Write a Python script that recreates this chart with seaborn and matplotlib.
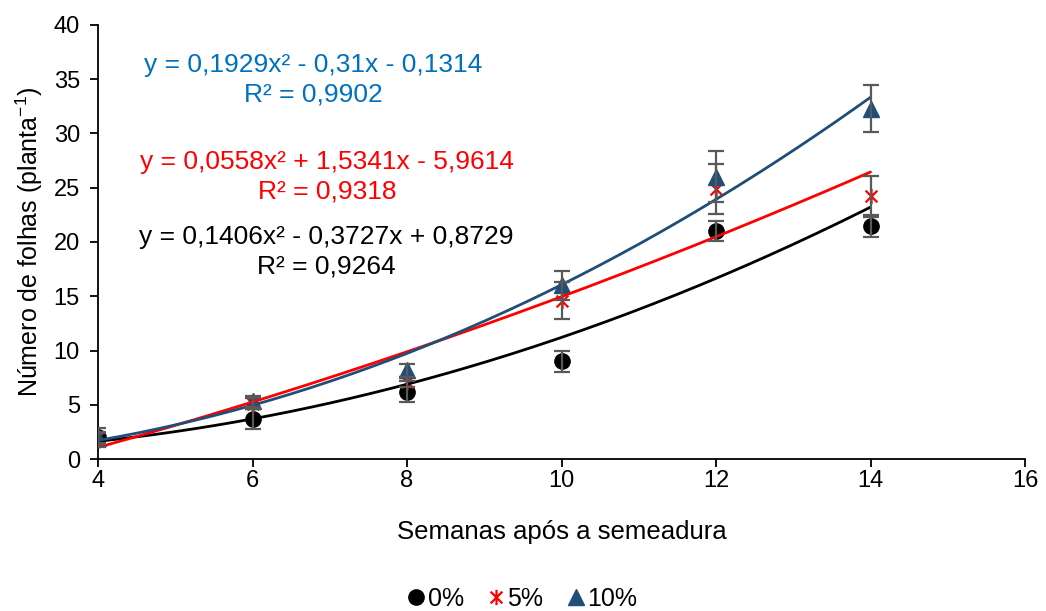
import numpy as np
import pandas as pd
import matplotlib
matplotlib.use("Agg")
import matplotlib.pyplot as plt
from matplotlib.path import Path
from matplotlib.lines import Line2D
import seaborn as sns

# ---- data ----
weeks = [4, 6, 8, 10, 12, 14]
y0 = [2.0, 3.7, 6.2, 9.0, 21.0, 21.5]
e0 = [0.9, 0.9, 0.95, 1.0, 0.95, 1.0]
y5 = [2.0, 5.1, 7.1, 14.6, 24.9, 24.2]
e5 = [0.5, 0.5, 0.5, 1.7, 2.3, 1.9]
y10 = [1.9, 5.3, 8.2, 16.0, 26.0, 32.3]
e10 = [0.5, 0.5, 0.6, 1.3, 2.35, 2.2]
series_labels = ["0%", "5%", "10%"]
coef0 = [0.1406, -0.3727, 0.8729]
coef5 = [0.0558, 1.5341, -5.9614]
coef10 = [0.1929, -0.31, -0.1314]
eq_texts = ["y = 0,1406x² - 0,3727x + 0,8729\nR² = 0,9264",
            "y = 0,0558x² + 1,5341x - 5,9614\nR² = 0,9318",
            "y = 0,1929x² - 0,31x - 0,1314\nR² = 0,9902"]
xticks = [4, 6, 8, 10, 12, 14, 16]
yticks = [0, 5, 10, 15, 20, 25, 30, 35, 40]

sns.set_theme(style="ticks")
plt.rcParams['font.family'] = ['Liberation Sans', 'DejaVu Sans']
plt.rcParams['mathtext.default'] = 'regular'
for k in ['text.color', 'axes.labelcolor', 'xtick.color', 'ytick.color']:
    plt.rcParams[k] = 'black'

fig = plt.figure(figsize=(10.46, 6.11), dpi=100)
ax = fig.add_axes([98/1046, 1-459/611, (1025-98)/1046, (459-25)/611])

star = Path([(-1, -1), (1, 1), (-1, 1), (1, -1), (0, -1.3), (0, 1.3)],
            [Path.MOVETO, Path.LINETO, Path.MOVETO, Path.LINETO, Path.MOVETO, Path.LINETO])

colors = ["#000000", "#FF0000", "#1F4E79"]
markers = ["o", star, "^"]
msizes = [11, 11, 12]
ys = [y0, y5, y10]
es = [e0, e5, e10]
coefs = [coef0, coef5, coef10]
text_colors = ["#000000", "#FF0000", "#0070C0"]

xs = np.linspace(4, 14, 200)
for i in range(3):
    df = pd.DataFrame({"x": weeks, "y": ys[i]})
    ax.plot(df["x"], df["y"], linestyle="none", marker=markers[i], ms=msizes[i],
            color=colors[i], mfc=colors[i] if i != 1 else "none", mec=colors[i],
            mew=1.6 if i == 1 else 1, zorder=3)
for i in range(3):
    ax.errorbar(weeks, ys[i], yerr=es[i], fmt="none", ecolor="#595959",
                elinewidth=1.6, capsize=5.5, capthick=1.6, zorder=5)
for i in range(3):
    fit = pd.DataFrame({"x": xs, "y": np.polyval(coefs[i], xs)})
    sns.lineplot(data=fit, x="x", y="y", ax=ax, color=colors[i], lw=2.0, zorder=4)

ax.set_xlim(4, 16)
ax.set_ylim(0, 40)
ax.set_xticks(xticks)
ax.set_yticks(yticks)
ax.tick_params(axis="both", labelsize=17, length=6, width=1.3, color="black",
               labelcolor="black", direction="out")
ax.tick_params(axis="y", pad=7)
ax.tick_params(axis="x", pad=2)
for s in ["top", "right"]:
    ax.spines[s].set_visible(False)
for s in ["left", "bottom"]:
    ax.spines[s].set_linewidth(1.3)
    ax.spines[s].set_color("black")
ax.set_xlabel("Semanas após a semeadura", fontsize=18.5, labelpad=20, color="black")
ax.set_ylabel("Número de folhas (planta$^{-1}$)", fontsize=18, labelpad=6, color="black")

eq_pos = [(326, 252), (327, 177), (313, 80)]
for i in range(3):
    fig.text(eq_pos[i][0]/1046, 1-eq_pos[i][1]/611, eq_texts[i], color=text_colors[i],
             fontsize=19, ha="center", va="center", multialignment="center", linespacing=1.28)

handles = [Line2D([], [], linestyle="none", marker=markers[i], ms=msizes[i],
                  color=colors[i], mfc=colors[i] if i != 1 else "none", mec=colors[i],
                  mew=1.6 if i == 1 else 1) for i in range(3)]
fig.legend(handles, series_labels, loc="center", bbox_to_anchor=(0.5, 1-599/611), ncol=3,
           frameon=False, fontsize=18, handlelength=0.6, handletextpad=0.15, columnspacing=1.0)

fig.savefig("out.png", dpi=100)
